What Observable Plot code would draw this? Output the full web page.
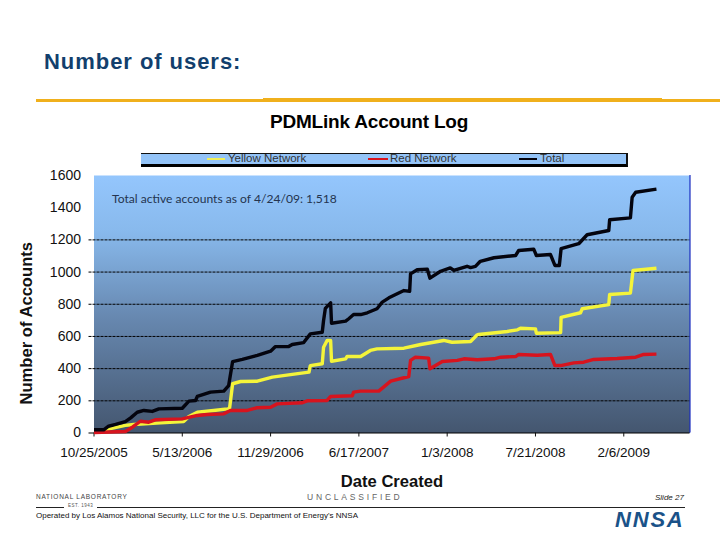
<!DOCTYPE html>
<html><head><meta charset="utf-8">
<script src="https://cdn.jsdelivr.net/npm/d3@7"></script>
<script src="https://cdn.jsdelivr.net/npm/@observablehq/plot@0.6"></script>
<style>
html,body{margin:0;padding:0;background:#fff;}
#page{position:relative;width:720px;height:540px;overflow:hidden;font-family:"Liberation Sans",Arial,sans-serif;}
#page svg{display:block;background:transparent;}
.t{position:absolute;white-space:nowrap;line-height:1;}
.b{position:absolute;}
</style></head><body><div id="page"></div>
<script>
const startDate = Date.UTC(2005, 9, 25);
const totalDays = [0,22,33,49,71,83,98,113,132,147,200,215,230,234,264,294,305,314,336,370,400,411,441,449,475,490,517,520,524,536,538,570,577,588,604,619,641,653,668,702,715,717,732,755,761,785,807,815,845,853,864,875,906,955,962,996,1002,1034,1044,1054,1058,1098,1117,1166,1168,1215,1219,1227,1274];
const totalVals = [20,20,42,53,71,94,129,140,134,150,154,198,202,227,254,260,295,444,457,482,508,537,537,550,562,616,626,699,774,809,682,695,710,736,736,747,772,813,840,885,881,989,1014,1018,962,1005,1026,1010,1036,1028,1035,1067,1089,1103,1134,1142,1103,1109,1041,1041,1145,1176,1232,1258,1325,1337,1465,1496,1515];
const yellowDays = [5,45,71,90,151,203,215,234,271,302,307,314,332,370,404,445,487,490,517,520,528,536,538,570,573,604,626,641,702,740,792,811,853,868,871,936,959,966,1000,1002,1057,1058,1102,1106,1166,1168,1215,1221,1274];
const yellowVals = [8,32,47,53,63,71,103,129,140,150,152,306,320,322,347,363,378,419,430,533,575,575,446,461,475,475,513,523,527,550,575,564,569,610,612,631,641,651,647,620,624,719,747,772,798,861,869,1010,1024];
const redDays = [0,71,87,105,124,139,200,234,256,294,309,347,370,400,415,472,483,528,536,585,588,604,645,672,713,717,728,758,761,789,823,838,868,906,921,955,962,1004,1034,1044,1057,1087,1109,1132,1185,1227,1245,1274];
const redVals = [3,9,36,73,67,82,88,109,115,119,140,140,157,160,181,188,200,202,227,231,254,260,260,322,351,451,471,465,399,444,451,461,455,461,471,475,488,483,488,419,419,436,440,457,463,471,488,490];
const tickDays = [0,200,400,600,800,1000,1200];
const yTicks = [0,200,400,600,800,1000,1200,1400,1600];
const gridVals = [200,400,600,800,1000,1200];
const lastDay = 1350;

const toDate = d => new Date(startDate + d * 864e5);
const table = (days, vals) => days.map((d, i) => ({date: toDate(d), value: vals[i]}));
const fmt = d => `${d.getUTCMonth()+1}/${d.getUTCDate()}/${d.getUTCFullYear()}`;
const lineOpts = (stroke, w) => ({x:"date", y:"value", stroke, strokeWidth:w, strokeLinejoin:"round", strokeLinecap:"butt"});

const gradient = () => {
  const defs = d3.create("svg:defs");
  const g = defs.append("linearGradient").attr("id","bg").attr("x1",0).attr("y1",0).attr("x2",0).attr("y2",1);
  [[0,"#94c6fd"],[0.22,"#88b9ec"],[0.55,"#6788b0"],[1,"#44566f"]].forEach(([o,c]) => g.append("stop").attr("offset",o).attr("stop-color",c));
  return defs.node();
};

const chart = Plot.plot({
  width:720, height:540,
  marginLeft:93.5, marginRight:30.5, marginTop:175, marginBottom:107.5,
  style:{fontFamily:'"Liberation Sans",Arial,sans-serif', background:"transparent", color:"#111"},
  x:{type:"utc", domain:[toDate(0), toDate(lastDay)]},
  y:{domain:[0,1600]},
  marks:[
    gradient,
    Plot.frame({fill:"url(#bg)", stroke:"none"}),
    Plot.ruleY(gridVals,{stroke:"#000",strokeWidth:1,strokeDasharray:"3 1",insetLeft:-5}),
    Plot.ruleY([0],{stroke:"#000",strokeWidth:1,insetLeft:-5}),
    Plot.ruleX([toDate(lastDay)],{stroke:"#1a2cc0",strokeWidth:1.2}),
    Plot.axisY({ticks:yTicks,tickFormat:d=>String(d),tickSize:0,tickPadding:13,fontSize:14,label:"Number of Accounts",labelAnchor:"center",labelArrow:"none",labelOffset:74,fill:"#111"}),
    Plot.axisX({ticks:tickDays.map(toDate),tickFormat:fmt,tickSize:4,tickPadding:10,fontSize:13.5,label:"Date Created",labelAnchor:"center",labelArrow:"none",labelOffset:54,fill:"#111"}),
    Plot.line(table(yellowDays,yellowVals),lineOpts("#f4f43a",3.4)),
    Plot.line(table(redDays,redVals),lineOpts("#d7141e",3.4)),
    Plot.line(table(totalDays,totalVals),lineOpts("#04040e",3.4))
  ]
});
d3.select(chart).selectAll("[aria-label='y-axis label'] text, [aria-label='x-axis label'] text").attr("font-weight","bold").attr("font-size",16.6);
d3.select(chart).selectAll("[aria-label='y-axis label'] text").attr("dx",-19);
const page = document.getElementById("page");
page.appendChild(chart);
chart.style.position="absolute"; chart.style.left="0"; chart.style.top="0";

const text = (s,x,y,css) => { const e=document.createElement("div"); e.className="t"; e.textContent=s; e.style.left=x+"px"; e.style.top=y+"px"; e.style.cssText+=css; page.appendChild(e); return e; };
const box = (x,y,w,h,css) => { const e=document.createElement("div"); e.className="b"; e.style.cssText+=`left:${x}px;top:${y}px;width:${w}px;height:${h}px;${css}`; page.appendChild(e); return e; };

text("Number of users:",44,51,"font-size:22px;font-weight:bold;color:#123f6d;letter-spacing:.95px;");
box(36,99,684,2.6,"background:#f0b01c;");
box(263,98.3,399,3.5,"background:#f0b01c;");
text("PDMLink Account Log",270,112,"font-size:19px;font-weight:bold;color:#000;letter-spacing:-.2px;");

box(141,152.5,487,14.5,"background:#94c4f8;border-top:1px solid #111;border-right:2px solid #111;border-bottom:3px solid #000;box-sizing:border-box;");
const legend=[["Yellow Network","#f0f05a",207,225,228],["Red Network","#d7141e",368,388,390],["Total","#04040e",519,537,540]];
legend.forEach(([n,c,a,b,tx])=>{ box(a,158,b-a,1.5,`background:${c};`); text(n,tx,153,"font-size:11.5px;color:#333;"); });

text("Total active accounts as of 4/24/09: 1,518",112,192.5,"font-family:Lato,sans-serif;font-size:12.1px;color:#24344f;");

text("NATIONAL LABORATORY",36,494,"font-size:6.5px;color:#444;letter-spacing:.75px;");
text("EST. 1943",68,504,"font-size:4.5px;color:#555;letter-spacing:.5px;");
text("UNCLASSIFIED",307,492.5,"font-size:8.5px;color:#666;letter-spacing:2.8px;");
text("Slide 27",655,494,"font-size:8px;font-style:italic;color:#222;");
box(36,507,28,1,"background:#222;");
box(97,507,588,1,"background:#222;");
text("Operated by Los Alamos National Security, LLC for the U.S. Department of Energy's NNSA",36,512,"font-size:8px;color:#111;");
text("NNSA",615,509,"font-size:22px;font-weight:bold;font-style:italic;color:#1a5288;letter-spacing:1.8px;");
</script></body></html>
